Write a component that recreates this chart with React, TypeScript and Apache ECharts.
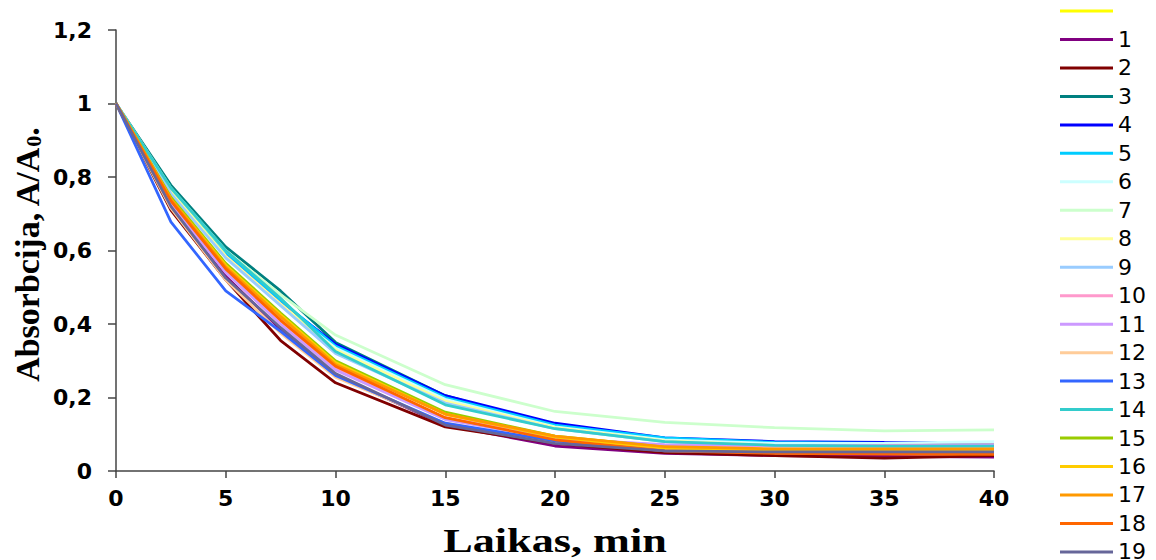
import { useEffect, useRef } from "react";
import * as echarts from "echarts";

// Sampling times, min
const times = [0, 2.5, 5, 7.5, 10, 15, 20, 25, 30, 35, 40];

// Relative absorbance A/A0 for each run (first run has no label)
const seriesNames = [" ", "1", "2", "3", "4", "5", "6", "7", "8", "9", "10", "11", "12", "13", "14", "15", "16", "17", "18", "19"];

const run0 = [1, 0.745, 0.56, 0.425, 0.295, 0.155, 0.09, 0.06, 0.055, 0.052, 0.052];
const run1 = [1, 0.72, 0.53, 0.385, 0.26, 0.125, 0.068, 0.048, 0.042, 0.04, 0.038];
const run2 = [1, 0.71, 0.52, 0.355, 0.24, 0.12, 0.075, 0.05, 0.042, 0.035, 0.042];
const run3 = [1, 0.778, 0.61, 0.49, 0.35, 0.205, 0.122, 0.085, 0.072, 0.068, 0.065];
const run4 = [1, 0.76, 0.59, 0.46, 0.345, 0.205, 0.13, 0.09, 0.08, 0.078, 0.078];
const run5 = [1, 0.765, 0.595, 0.465, 0.34, 0.2, 0.125, 0.09, 0.078, 0.075, 0.074];
const run6 = [1, 0.76, 0.58, 0.45, 0.335, 0.195, 0.12, 0.085, 0.075, 0.076, 0.08];
const run7 = [1, 0.77, 0.6, 0.48, 0.37, 0.235, 0.162, 0.132, 0.118, 0.109, 0.112];
const run8 = [1, 0.76, 0.585, 0.455, 0.33, 0.19, 0.118, 0.082, 0.07, 0.068, 0.07];
const run9 = [1, 0.755, 0.58, 0.45, 0.32, 0.185, 0.115, 0.08, 0.068, 0.066, 0.066];
const run10 = [1, 0.73, 0.545, 0.41, 0.28, 0.145, 0.09, 0.07, 0.068, 0.07, 0.072];
const run11 = [1, 0.725, 0.54, 0.4, 0.275, 0.14, 0.088, 0.072, 0.07, 0.068, 0.07];
const run12 = [1, 0.715, 0.52, 0.375, 0.255, 0.13, 0.08, 0.058, 0.055, 0.058, 0.06];
const run13 = [1, 0.678, 0.49, 0.38, 0.26, 0.13, 0.082, 0.055, 0.05, 0.05, 0.05];
const run14 = [1, 0.77, 0.6, 0.47, 0.325, 0.18, 0.115, 0.08, 0.07, 0.068, 0.068];
const run15 = [1, 0.745, 0.565, 0.43, 0.3, 0.16, 0.095, 0.065, 0.058, 0.055, 0.055];
const run16 = [1, 0.74, 0.56, 0.425, 0.295, 0.155, 0.092, 0.062, 0.057, 0.056, 0.058];
const run17 = [1, 0.74, 0.555, 0.42, 0.29, 0.155, 0.095, 0.066, 0.06, 0.06, 0.06];
const run18 = [1, 0.735, 0.55, 0.41, 0.285, 0.145, 0.085, 0.055, 0.048, 0.046, 0.045];
const run19 = [1, 0.72, 0.525, 0.39, 0.265, 0.125, 0.075, 0.055, 0.052, 0.052, 0.052];

const runs = [run0, run1, run2, run3, run4, run5, run6, run7, run8, run9, run10, run11, run12, run13, run14, run15, run16, run17, run18, run19];

const colors = [
  "#FFFF00", "#800080", "#800000", "#008080", "#0000FF",
  "#00CCFF", "#CCFFFF", "#CCFFCC", "#FFFF99", "#99CCFF",
  "#FF99CC", "#CC99FF", "#FFCC99", "#3366FF", "#33CCCC",
  "#99CC00", "#FFCC00", "#FF9900", "#FF6600", "#666699",
];

const yTicks = [0, 0.2, 0.4, 0.6, 0.8, 1, 1.2];

const fmtComma = (v: number) => String(Number(v.toFixed(2))).replace(".", ",");

export default function App() {
  const ref = useRef<HTMLDivElement>(null);

  useEffect(() => {
    if (!ref.current) return;
    const chart = echarts.init(ref.current, null, { renderer: "svg" });

    const axisColor = "#444";
    const tickFont = {
      fontFamily: "DejaVu Sans",
      fontWeight: "bold" as const,
      fontSize: 22,
      color: "#000",
    };
    const serif = "'Liberation Serif', 'Times New Roman', serif";

    chart.setOption({
      animation: false,
      color: colors,
      grid: { left: 116, right: 162, top: 30, bottom: 89, outerBoundsMode: "none" },
      legend: {
        orient: "vertical",
        left: 1055,
        top: -5,
        height: 800,
        icon: "rect",
        itemWidth: 53,
        itemHeight: 3,
        itemGap: 6.47,
        selectedMode: false,
        textStyle: {
          fontFamily: "DejaVu Sans",
          fontSize: 22,
          color: "#000",
        },
        data: seriesNames,
      },
      graphic: [
        {
          type: "text",
          x: 555,
          y: 541,
          scaleX: 1.3,
          silent: true,
          style: {
            text: "Laikas, min",
            fill: "#000",
            fontFamily: serif,
            fontWeight: "bold",
            fontSize: 34,
            align: "center",
            verticalAlign: "middle",
          },
        },
        {
          type: "text",
          x: 27,
          y: 255,
          rotation: Math.PI / 2,
          silent: true,
          style: {
            text: "{t|Absorbcija, A/A}{s|0}{t|.}",
            align: "center",
            verticalAlign: "middle",
            rich: {
              t: { fontFamily: serif, fontWeight: "bold", fontSize: 34, fill: "#000", height: 34, verticalAlign: "middle" },
              s: { fontFamily: serif, fontWeight: "bold", fontSize: 22, fill: "#000", height: 34, verticalAlign: "bottom", padding: [12, 0, 0, 0] },
            },
          },
        },
      ],
      xAxis: {
        type: "value",
        min: 0,
        max: 40,
        interval: 5,
        axisLine: { show: true, onZero: false, lineStyle: { color: axisColor, width: 1.5 } },
        axisTick: { show: true, length: 7, lineStyle: { color: axisColor, width: 1.5 } },
        axisLabel: { ...tickFont, margin: 16 },
        splitLine: { show: false },
      },
      yAxis: {
        type: "value",
        min: 0,
        max: 1.2,
        interval: 0.2,
        axisLine: { show: true, lineStyle: { color: axisColor, width: 1.5 } },
        axisTick: { show: true, length: 8, lineStyle: { color: axisColor, width: 1.5 } },
        axisLabel: {
          ...tickFont,
          margin: 24,
          formatter: (v: number) => (yTicks.some((t) => Math.abs(t - v) < 1e-9) ? fmtComma(v) : ""),
        },
        splitLine: { show: false },
      },
      series: runs.map((vals, i) => ({
        name: seriesNames[i],
        type: "line",
        symbol: "none",
        showSymbol: false,
        silent: true,
        lineStyle: { width: 2.75, color: colors[i] },
        itemStyle: { color: colors[i] },
        emphasis: { disabled: true },
        data: times.map((t, k) => [t, vals[k]]),
      })),
    });

    return () => chart.dispose();
  }, []);

  return (
    <div
      ref={ref}
      style={{ position: "fixed", left: 0, top: 0, width: 1156, height: 560, background: "#fff" }}
    />
  );
}
